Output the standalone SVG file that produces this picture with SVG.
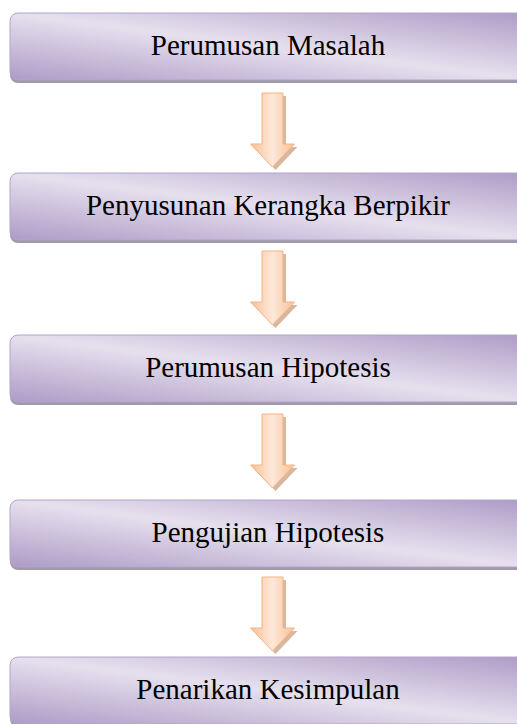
<svg xmlns="http://www.w3.org/2000/svg" xmlns:xlink="http://www.w3.org/1999/xlink" width="517" height="724" viewBox="0 0 517 724">
<style>
.box{fill:url(#boxg);stroke:#b4a4cb;stroke-width:1}
.shadow{fill:#9f99a8}
.lbl{font-family:"Liberation Serif","Times New Roman",serif;font-size:29px;fill:#000;text-anchor:middle}
.arr{fill:url(#arrg);stroke:#f5b383;stroke-width:1}
.arrsh{fill:#c99f7f;opacity:0.75}
</style>
<defs>
<linearGradient id="boxg" x1="1" y1="0" x2="0" y2="1">
<stop offset="0" stop-color="#ad9bc6"/>
<stop offset="0.5" stop-color="#e6e0ee"/>
<stop offset="1" stop-color="#ad9bc6"/>
</linearGradient>
<linearGradient id="arrg" x1="0" y1="0" x2="1" y2="0">
<stop offset="0" stop-color="#f9c093"/>
<stop offset="0.5" stop-color="#fde8da"/>
<stop offset="1" stop-color="#f9c093"/>
</linearGradient>
<path id="arrow" d="M-10.5,0 H10.5 V51 H22 L0,74 L-22,51 H-10.5 Z"/>
</defs>
<rect width="517" height="724" fill="#fff"/>
<g id="connectors">
<g transform="translate(272.5,93)"><use xlink:href="#arrow" class="arrsh" transform="translate(3,3)"/><use xlink:href="#arrow" class="arr"/></g>
<g transform="translate(272.5,251)"><use xlink:href="#arrow" class="arrsh" transform="translate(3,3)"/><use xlink:href="#arrow" class="arr"/></g>
<g transform="translate(272.5,414)"><use xlink:href="#arrow" class="arrsh" transform="translate(3,3)"/><use xlink:href="#arrow" class="arr"/></g>
<g transform="translate(272.5,577)"><use xlink:href="#arrow" class="arrsh" transform="translate(3,3)"/><use xlink:href="#arrow" class="arr"/></g>
</g>
<g id="node1">
<rect class="shadow" x="10" y="16" width="520" height="67" rx="8"/>
<rect class="box" x="10" y="13" width="520" height="67" rx="8"/>
<text class="lbl" x="268" y="55">Perumusan Masalah</text>
</g>
<g id="node2">
<rect class="shadow" x="10" y="176" width="520" height="67" rx="8"/>
<rect class="box" x="10" y="173" width="520" height="67" rx="8"/>
<text class="lbl" x="268" y="215">Penyusunan Kerangka Berpikir</text>
</g>
<g id="node3">
<rect class="shadow" x="10" y="338" width="520" height="67" rx="8"/>
<rect class="box" x="10" y="335" width="520" height="67" rx="8"/>
<text class="lbl" x="268" y="377">Perumusan Hipotesis</text>
</g>
<g id="node4">
<rect class="shadow" x="10" y="503" width="520" height="67" rx="8"/>
<rect class="box" x="10" y="500" width="520" height="67" rx="8"/>
<text class="lbl" x="268" y="542">Pengujian Hipotesis</text>
</g>
<g id="node5">
<rect class="shadow" x="10" y="660" width="520" height="67" rx="8"/>
<rect class="box" x="10" y="657" width="520" height="67" rx="8"/>
<text class="lbl" x="268" y="699">Penarikan Kesimpulan</text>
</g>
</svg>
